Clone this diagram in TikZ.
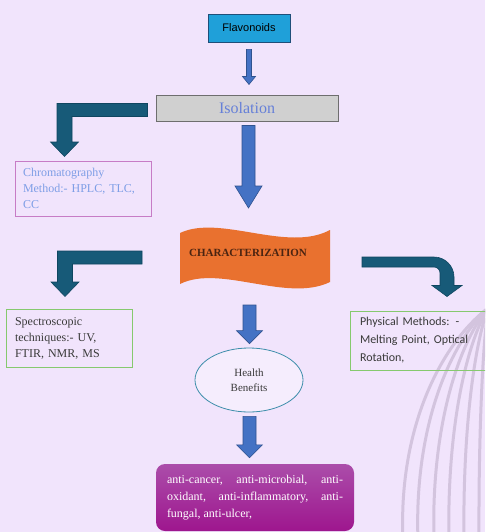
\documentclass[tikz,border=0pt]{standalone}
\usepackage{fontspec}
\setmainfont{Liberation Serif}
\newfontfamily\arialfont{Liberation Sans}
\newfontfamily\calibrifont{Carlito}
\usepackage{tikz}
\usetikzlibrary{calc,shapes.geometric}

\definecolor{bgpurple}{HTML}{F1E4FC}
\definecolor{flavblue}{HTML}{1FA0D9}
\definecolor{flavline}{HTML}{1F4E79}
\definecolor{isogray}{HTML}{D0D0D0}
\definecolor{isoline}{HTML}{6E6E6E}
\definecolor{isotext}{HTML}{6680D8}
\definecolor{chromline}{HTML}{C77CC6}
\definecolor{chromtext}{HTML}{7E9EE6}
\definecolor{charorange}{HTML}{E9712F}
\definecolor{chartext}{HTML}{4B2411}
\definecolor{tealarrow}{HTML}{175A78}
\definecolor{tealline}{HTML}{0F4660}
\definecolor{bluearrow}{HTML}{4472C4}
\definecolor{blueline}{HTML}{2F528F}
\definecolor{greenline}{HTML}{86C96E}
\definecolor{darktext}{HTML}{3A3A3A}
\definecolor{healthline}{HTML}{3E8EAB}
\definecolor{healthfill}{HTML}{F5EDFD}
\definecolor{bentop}{HTML}{AB4DAA}
\definecolor{benbot}{HTML}{9E168E}
\definecolor{swirl}{HTML}{D3C4DE}

% straight block arrow, pointing down
\newcommand{\blockdown}[6]{%
  \path[#1] let \p1=(#2), \p2=(#3) in
    (\x1-#4,\y1) -- (\x1+#4,\y1) -- (\x1+#4,\y2+#6) -- (\x1+#5,\y2+#6)
    -- (\x1,\y2) -- (\x1-#5,\y2+#6) -- (\x1-#4,\y2+#6) -- cycle;}
% bent block arrow, left then down
\newcommand{\bentleft}[3]{%
  \path[#1] let \p1=(#2), \p2=(#3) in
    (\x1,\y1+6.5) -- (\x2-7.5,\y1+6.5) -- (\x2-7.5,\y2+14.5) -- (\x2-14,\y2+14.5)
    -- (\x2,\y2) -- (\x2+14,\y2+14.5) -- (\x2+7.5,\y2+14.5) -- (\x2+7.5,\y1-6.5)
    -- (\x1,\y1-6.5) -- cycle;}
% bent block arrow, right then down (round corner)
\newcommand{\bentright}[3]{%
  \path[#1] let \p1=(#2), \p2=(#3) in
    (\x1,\y1+5) -- (\x2-13,\y1+5) .. controls (\x2-2,\y1+5) and (\x2+7,\y1-4) .. (\x2+7,\y1-15)
    -- (\x2+7,\y2+11) -- (\x2+15,\y2+11) -- (\x2,\y2) -- (\x2-15,\y2+11) -- (\x2-7,\y2+11)
    -- (\x2-7,\y1-11) .. controls (\x2-7,\y1-7.7) and (\x2-9.7,\y1-5) .. (\x2-13,\y1-5)
    -- (\x1,\y1-5) -- cycle;}

\begin{document}
\begin{tikzpicture}[x=1pt,y=-1pt,
	flavbox/.style={draw=flavline, fill=flavblue, line width=0.8pt, inner sep=0pt,
		minimum width=82pt, minimum height=28pt, font=\arialfont\fontsize{11}{13}\selectfont},
	isobox/.style={draw=isoline, fill=isogray, line width=1pt, inner sep=0pt,
		minimum width=182pt, minimum height=25pt, text=isotext, font=\fontsize{16}{18}\selectfont},
	chrombox/.style={draw=chromline, line width=1pt, inner xsep=8pt, text width=120pt,
		minimum height=55pt, align=left, text=chromtext, font=\fontsize{12}{16}\selectfont},
	greenbox/.style={draw=greenline, line width=1pt, align=left, text=darktext},
	healthnode/.style={ellipse, draw=healthline, fill=healthfill, line width=0.8pt, inner sep=0pt,
		minimum width=108pt, minimum height=64pt, align=center, text=darktext,
		font=\fontsize{11}{15}\selectfont},
	benbox/.style={rounded corners=9pt, top color=bentop, bottom color=benbot, inner sep=0pt,
		minimum width=198pt, minimum height=67pt, align=left, text=white,
		font=\fontsize{12}{17}\selectfont},
	bluethin/.style={fill=bluearrow, draw=blueline, line width=0.6pt},
	bluebig/.style={fill=bluearrow, draw=blueline, line width=0.6pt},
	tealbent/.style={fill=tealarrow, draw=tealline, line width=0.6pt}]
	\useasboundingbox (0,0) rectangle (485,532);
	\clip (0,0) rectangle (485,532);
	\fill[bgpurple] (0,0) rectangle (485,532);
	% swirl in the corner
	\foreach \xb in {403,418,434,449,464,479}
		\draw[swirl, line width=3pt] (488,308) .. controls ({488-48*(488-\xb)/85},345) and ({\xb-5*(488-\xb)/85},430) .. (\xb,540);

	\node[flavbox] (flav) at (249,28) {Flavonoids};
	\node[isobox] (iso) at (247,108.5) {Isolation};
	\node[chrombox] (chrom) at (83,188.5) {Chromatography\\Method:- HPLC, TLC,\\CC};

	\fill[charorange] (180,233) .. controls (220,214) and (287,253) .. (330,230)
		-- (330,282) .. controls (287,303) and (220,264) .. (180,284) -- cycle;
	\node[text=chartext, font=\bfseries\fontsize{11}{13}\selectfont] (char) at (248,253) {CHARACTERIZATION};

	\node[greenbox, inner xsep=9pt, text width=108pt, minimum height=58pt,
		font=\fontsize{12}{16}\selectfont] (spec) at (69,338)
		{Spectroscopic\\techniques:- UV,\\FTIR, NMR, MS};
	\node[greenbox, inner xsep=10pt, text width=118pt, minimum height=59pt,
		font=\calibrifont\fontsize{12}{18}\selectfont] (phys) at (419,340.5)
		{Physical Methods: -\\Melting Point, Optical\\Rotation,};
	\node[healthnode] (health) at (249,380) {Health\\Benefits};
	\node[benbox] (ben) at (255,497.5)
		{\makebox[176pt][s]{anti-cancer, anti-microbial, anti-}\\
		 \makebox[176pt][s]{oxidant, anti-inflammatory, anti-}\\
		 \makebox[176pt][l]{fungal, anti-ulcer,}};

	\blockdown{bluethin}{$(flav.south)+(0,7)$}{$(iso.north)+(0,-11)$}{2.5}{6.5}{8}
	\blockdown{bluebig}{$(iso.south)+(1.5,4)$}{$(char)+(0.5,-45)$}{6.5}{13.5}{22}
	\blockdown{bluebig}{$(char)+(1.5,52)$}{$(health.north)+(0.5,-4)$}{6.5}{13}{13}
	\blockdown{bluebig}{$(health.south)+(0.5,4)$}{$(ben.north)+(-5.5,-6)$}{6.5}{13}{13}

	\bentleft{tealbent}{$(iso.west)+(-8,1.5)$}{$(chrom.north)+(-18.5,-4)$}
	\bentleft{tealbent}{$(char)+(-106,4.5)$}{$(spec.north)+(-4,-12)$}
	\bentright{tealbent}{$(char)+(114,9)$}{$(phys.north)+(28,-14)$}
\end{tikzpicture}
\end{document}
